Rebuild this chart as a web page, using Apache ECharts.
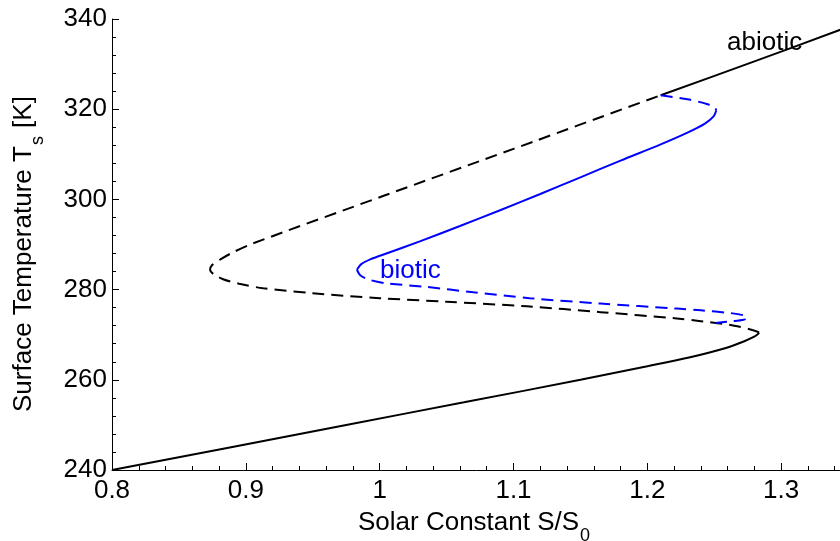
<!DOCTYPE html>
<html><head><meta charset="utf-8">
<script src="https://cdn.jsdelivr.net/npm/echarts@6/dist/echarts.min.js"></script>
<style>html,body{margin:0;padding:0;background:#fff}#c{width:840px;height:541px}</style>
</head><body><div id="c"></div>
<script>
// ---- tick labels ----
const xTickLabels = ['0.8', '0.9', '1', '1.1', '1.2', '1.3', '1.4'];
const yTickLabels = ['240', '260', '280', '300', '320', '340'];

// ---- abiotic curve (black), solar constant S/S0 and temperature T [K] ----
const abioticLowerS = [0.800, 0.888, 0.975, 1.063, 1.150, 1.200, 1.232, 1.258, 1.272, 1.2795, 1.2825, 1.2835];
const abioticLowerT = [240.0, 245.0, 250.0, 255.0, 260.0, 263.0, 265.0, 267.0, 268.5, 269.5, 270.1, 270.5];
const abioticMiddleS = [1.2835, 1.279, 1.265, 1.240, 1.222, 1.165, 1.110, 1.050, 1.000, 0.950, 0.913, 0.895, 0.883, 0.876, 0.8733, 0.875, 0.881, 0.890, 0.905, 1.003, 1.100, 1.210];
const abioticMiddleT = [270.5, 271.0, 272.0, 273.0, 273.6, 275.0, 276.3, 277.3, 278.1, 279.2, 280.3, 281.3, 282.3, 283.4, 284.4, 285.5, 286.7, 288.2, 290.2, 300.8, 311.2, 323.1];
const abioticUpperS = [1.210, 1.280, 1.345];
const abioticUpperT = [323.1, 330.6, 337.7];

// ---- biotic curve (blue) ----
const bioticTopS = [1.210, 1.230, 1.245, 1.2505, 1.2515];
const bioticTopT = [323.1, 322.2, 321.1, 320.3, 319.7];
const bioticSolidS = [1.2515, 1.2495, 1.243, 1.230, 1.210, 1.180, 1.150, 1.120, 1.090, 1.060, 1.030, 1.005, 0.993, 0.986, 0.983];
const bioticSolidT = [319.7, 318.4, 316.8, 314.8, 312.2, 308.6, 304.9, 301.2, 297.6, 294.1, 290.7, 288.0, 286.7, 285.6, 284.4];
const bioticLowerS = [0.983, 0.9855, 0.992, 1.005, 1.035, 1.070, 1.112, 1.165, 1.222, 1.240, 1.262, 1.272, 1.2745, 1.272, 1.262, 1.251];
const bioticLowerT = [284.4, 283.2, 282.2, 281.4, 280.6, 279.4, 278.1, 276.9, 275.8, 275.4, 274.8, 274.3, 273.8, 273.3, 272.95, 272.6];

const zip = (xs, ys) => xs.map((x, i) => [x, ys[i]]);
const FONT = "'Liberation Sans', Arial, Helvetica, sans-serif";
const dash = [12, 7];

function mkSeries(name, xs, ys, color, type) {
  return {
    name, type: 'line', data: zip(xs, ys), showSymbol: false, symbol: 'none',
    smooth: 0.3, clip: true, animation: false,
    lineStyle: { color, width: 2, type }
  };
}

const chart = echarts.init(document.getElementById('c'), null, { renderer: 'canvas' });

function measure(text, font) {
  const ctx = document.createElement('canvas').getContext('2d');
  ctx.font = font;
  return ctx.measureText(text).width;
}

const titleSize = 26, subSize = 18, tickSize = 26;
const xMain = 'Solar Constant S/S';
const xMainW = measure(xMain, titleSize + 'px ' + FONT);
const yMain = 'Surface Temperature T';
const yMainW = measure(yMain, titleSize + 'px ' + FONT);
const yRest = ' [K]';
const ySubW = measure('s', subSize + 'px ' + FONT);

const xTitleLeft = 358, xTitleBase = 536;
const yTitleBase = 37, yTitleBottom = 412;

chart.setOption({
  animation: false,
  backgroundColor: '#fff',
  grid: { left: 112, top: 19, width: 803, height: 451, containLabel: false, outerBoundsMode: 'none' },
  xAxis: {
    type: 'value', min: 0.8, max: 1.4, interval: 0.1,
    axisLine: { show: true, onZero: false, lineStyle: { color: '#000', width: 1 } },
    axisTick: { show: true, inside: true, length: 7, lineStyle: { color: '#000' } },
    minorTick: { show: true, splitNumber: 5, length: 4, lineStyle: { color: '#000' } },
    splitLine: { show: false },
    axisLabel: {
      fontSize: tickSize, color: '#000', fontFamily: FONT, margin: 8,
      formatter: v => { const i = Math.round((v - 0.8) / 0.1); return Math.abs(v - (0.8 + 0.1 * i)) < 1e-6 ? (xTickLabels[i] || '') : ''; }
    }
  },
  yAxis: {
    type: 'value', min: 240, max: 340, interval: 20,
    axisLine: { show: true, lineStyle: { color: '#000', width: 1 } },
    axisTick: { show: true, inside: true, length: 7, lineStyle: { color: '#000' } },
    minorTick: { show: true, splitNumber: 5, length: 4, lineStyle: { color: '#000' } },
    splitLine: { show: false },
    axisLabel: {
      fontSize: tickSize, color: '#000', fontFamily: FONT, margin: 5,
      formatter: v => { const i = Math.round((v - 240) / 20); return yTickLabels[i] || ''; }
    }
  },
  series: [
    mkSeries('abiotic stable low', abioticLowerS, abioticLowerT, '#000', 'solid'),
    mkSeries('abiotic unstable', abioticMiddleS, abioticMiddleT, '#000', dash),
    mkSeries('abiotic stable high', abioticUpperS, abioticUpperT, '#000', 'solid'),
    mkSeries('biotic unstable top', bioticTopS, bioticTopT, '#0000ff', dash),
    mkSeries('biotic stable', bioticSolidS, bioticSolidT, '#0000ff', 'solid'),
    mkSeries('biotic unstable low', bioticLowerS, bioticLowerT, '#0000ff', dash)
  ],
  graphic: [
    { type: 'text', x: 727, y: 43, style: { text: 'abiotic', font: '26px ' + FONT, fill: '#000', verticalAlign: 'middle' } },
    { type: 'text', x: 380, y: 271, style: { text: 'biotic', font: '26px ' + FONT, fill: '#0000ff', verticalAlign: 'middle' } },
    { type: 'text', x: xTitleLeft, y: xTitleBase, style: { text: xMain, font: titleSize + 'px ' + FONT, fill: '#000', verticalAlign: 'bottom' } },
    { type: 'text', x: xTitleLeft + xMainW + 1, y: xTitleBase + 9, style: { text: '0', font: subSize + 'px ' + FONT, fill: '#000', verticalAlign: 'bottom' } },
    {
      type: 'group', x: yTitleBase, y: yTitleBottom, rotation: Math.PI / 2,
      children: [
        { type: 'text', x: 0, y: 0, style: { text: yMain, font: titleSize + 'px ' + FONT, fill: '#000', verticalAlign: 'bottom' } },
        { type: 'text', x: yMainW + 1, y: 10, style: { text: 's', font: subSize + 'px ' + FONT, fill: '#000', verticalAlign: 'bottom' } },
        { type: 'text', x: yMainW + ySubW + 2, y: 0, style: { text: yRest, font: titleSize + 'px ' + FONT, fill: '#000', verticalAlign: 'bottom' } }
      ]
    }
  ]
});
</script></body></html>
